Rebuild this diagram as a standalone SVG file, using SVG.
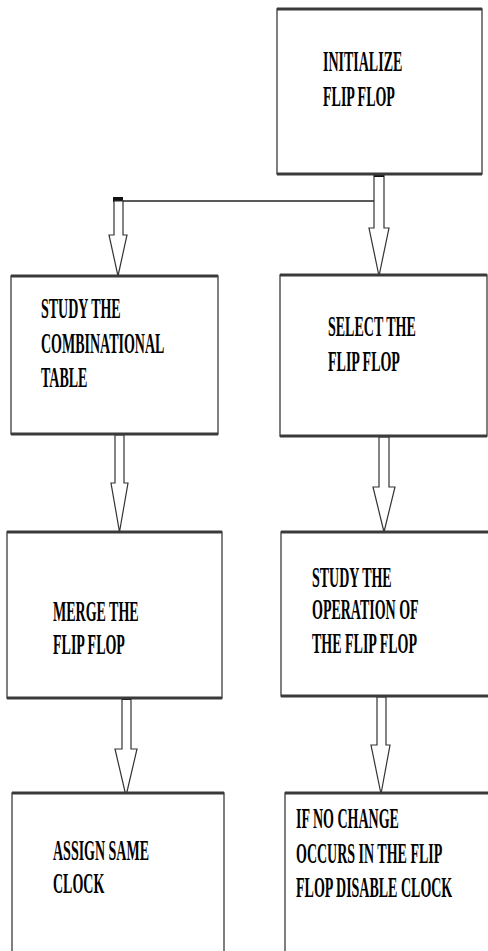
<svg xmlns="http://www.w3.org/2000/svg" width="488" height="951" viewBox="0 0 488 951">
<style>
.box{fill:#fff;stroke:#555;stroke-width:1.5}
.hl{stroke:#3a3a3a;stroke-width:3}
.arr{fill:#fff;stroke:#333;stroke-width:1.2;stroke-linejoin:miter}
.cap{fill:#111}
.ln{stroke:#222;stroke-width:1.6;fill:none}
.t{font-family:"Liberation Serif","Times New Roman",serif;font-weight:bold;font-size:14px;fill:#000}
</style>
<rect width="488" height="951" fill="#fff"/>
<g id="connectors">
<path class="ln" d="M118 201 H374"/>
<rect class="cap" x="113" y="197" width="10" height="5"/>
<polygon class="arr" points="374,175 384,175 384,228 389,228 379,276 369,228 374,228"/>
<rect class="cap" x="374" y="174" width="10" height="3"/>
<polygon class="arr" points="114,201 123,201 123,235 127,235 118,276 109,235 114,235"/>
<polygon class="arr" points="115,435 124,435 124,483 128,483 119.5,532 111,483 115,483"/>
<polygon class="arr" points="379,437 389,437 389,487 395,487 384,532 373,487 379,487"/>
<polygon class="arr" points="122,699 131,699 131,749 137,749 126,796 115,749 122,749"/>
<rect class="cap" x="122" y="697" width="9" height="3"/>
<polygon class="arr" points="377,697 386,697 386,745 390,745 381,794 371,745 377,745"/>
</g>
<g id="n0">
<rect class="box" x="277" y="9" width="205" height="165"/>
<path class="hl" d="M277 9 H482 M277 174 H482"/>
<text class="t" transform="matrix(1 0 0 2.05 323 71)">INITIALIZE</text>
<text class="t" transform="matrix(1 0 0 2.05 323 106)">FLIP FLOP</text>
</g>
<g id="n1">
<rect class="box" x="11" y="276" width="207" height="158"/>
<path class="hl" d="M11 276 H218 M11 434 H218"/>
<text class="t" transform="matrix(1 0 0 2.05 41 318)">STUDY THE</text>
<text class="t" transform="matrix(1 0 0 2.05 41 353)">COMBINATIONAL</text>
<text class="t" transform="matrix(1 0 0 2.05 41 387)">TABLE</text>
</g>
<g id="n2">
<rect class="box" x="280" y="275" width="207" height="161"/>
<path class="hl" d="M280 275 H487 M280 436 H487"/>
<text class="t" transform="matrix(1 0 0 2.05 328 336)">SELECT THE</text>
<text class="t" transform="matrix(1 0 0 2.05 328 371)">FLIP FLOP</text>
</g>
<g id="n3">
<rect class="box" x="7" y="532" width="215" height="166"/>
<path class="hl" d="M7 532 H222 M7 698 H222"/>
<text class="t" transform="matrix(1 0 0 2.05 53 621)">MERGE THE</text>
<text class="t" transform="matrix(1 0 0 2.05 53 654)">FLIP FLOP</text>
</g>
<g id="n4">
<rect class="box" x="281" y="532" width="215" height="164"/>
<path class="hl" d="M281 532 H496 M281 696 H496"/>
<text class="t" transform="matrix(1 0 0 2.05 312 587)">STUDY THE</text>
<text class="t" transform="matrix(1 0 0 2.05 312 619)">OPERATION OF</text>
<text class="t" transform="matrix(1 0 0 2.05 312 653)">THE FLIP FLOP</text>
</g>
<g id="n5">
<rect class="box" x="12" y="793" width="212" height="170"/>
<path class="hl" d="M12 793 H224"/>
<text class="t" transform="matrix(1 0 0 2.05 53 860)">ASSIGN SAME</text>
<text class="t" transform="matrix(1 0 0 2.05 53 893)">CLOCK</text>
</g>
<g id="n6">
<rect class="box" x="285" y="793" width="212" height="170"/>
<path class="hl" d="M285 793 H497"/>
<text class="t" transform="matrix(1 0 0 2.05 296 828)">IF NO CHANGE</text>
<text class="t" transform="matrix(1 0 0 2.05 296 863)">OCCURS IN THE FLIP</text>
<text class="t" transform="matrix(1 0 0 2.05 296 897)">FLOP DISABLE CLOCK</text>
</g>
</svg>
